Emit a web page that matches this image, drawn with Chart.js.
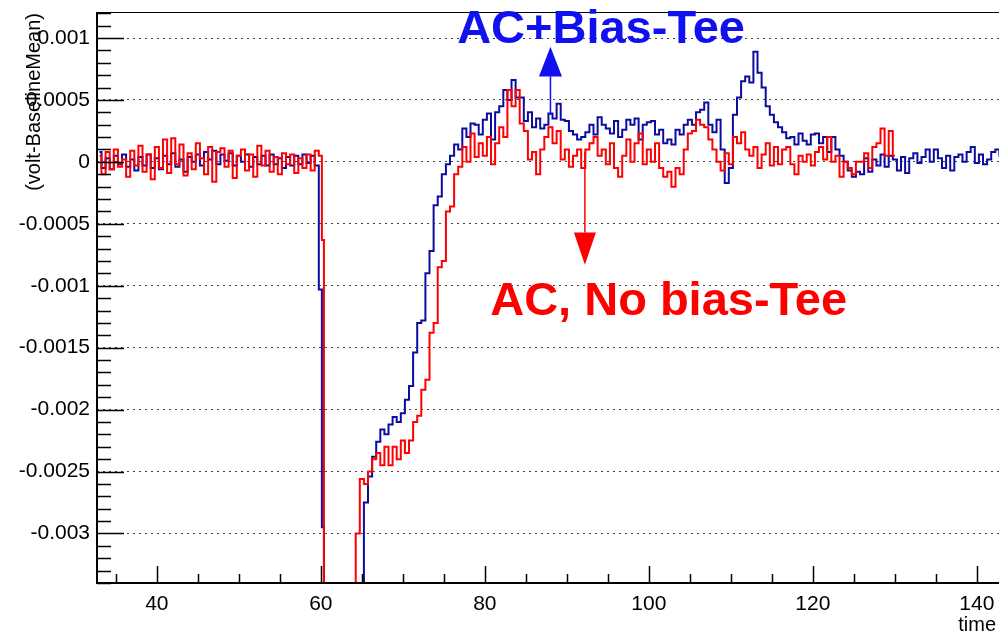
<!DOCTYPE html>
<html>
<head>
<meta charset="utf-8">
<title>AC vs AC+Bias-Tee</title>
<script src="https://cdn.jsdelivr.net/npm/chart.js@4.4.1/dist/chart.umd.min.js"></script>
<style>
  html, body { margin: 0; padding: 0; background: #fff; }
  #wrap { width: 999px; height: 636px; }
</style>
</head>
<body>
<div id="wrap"><canvas id="pulse" width="999" height="636"></canvas></div>
<script>
// sample times (bin centres), shared by both traces
const times = [
  33, 33.5, 34, 34.5, 35, 35.5, 36, 36.5, 37, 37.5,
  38, 38.5, 39, 39.5, 40, 40.5, 41, 41.5, 42, 42.5,
  43, 43.5, 44, 44.5, 45, 45.5, 46, 46.5, 47, 47.5,
  48, 48.5, 49, 49.5, 50, 50.5, 51, 51.5, 52, 52.5,
  53, 53.5, 54, 54.5, 55, 55.5, 56, 56.5, 57, 57.5,
  58, 58.5, 59, 59.5, 60, 60.25, 60.5, 61, 61.5, 62, 62.5,
  63, 63.5, 64, 64.5, 65, 65.5, 66, 66.5, 67, 67.5,
  68, 68.5, 69, 69.5, 70, 70.5, 71, 71.5, 72, 72.5,
  73, 73.5, 74, 74.5, 75, 75.5, 76, 76.5, 77, 77.5,
  78, 78.5, 79, 79.5, 80, 80.5, 81, 81.5, 82, 82.5,
  83, 83.5, 84, 84.5, 85, 85.5, 86, 86.5, 87, 87.5,
  88, 88.5, 89, 89.5, 90, 90.5, 91, 91.5, 92, 92.5,
  93, 93.5, 94, 94.5, 95, 95.5, 96, 96.5, 97, 97.5,
  98, 98.5, 99, 99.5, 100, 100.5, 101, 101.5, 102, 102.5,
  103, 103.5, 104, 104.5, 105, 105.5, 106, 106.5, 107, 107.5,
  108, 108.5, 109, 109.5, 110, 110.5, 111, 111.5, 112, 112.5,
  113, 113.5, 114, 114.5, 115, 115.5, 116, 116.5, 117, 117.5,
  118, 118.5, 119, 119.5, 120, 120.5, 121, 121.5, 122, 122.5,
  123, 123.5, 124, 124.5, 125, 125.5, 126, 126.5, 127, 127.5,
  128, 128.5, 129, 129.5, 130, 130.5, 131, 131.5, 132, 132.5,
  133, 133.5, 134, 134.5, 135, 135.5, 136, 136.5, 137, 137.5,
  138, 138.5, 139, 139.5, 140, 140.5, 141, 141.5, 142, 142.5,
  143
];

// AC, no bias-tee (red), volts; ends at t=130
const acNoBiasTee = [
  0.00005, -0.0001, 0.00008, -0.00006, 0.0001, -0.00004, 0.00002, -0.00012, 0.00009, -0.00003,
  0.00013, -0.00008, 0.00006, -0.00014, 0.00012, -0.00005, 0.00018, -0.00009, 0.00019, -0.00002,
  0.00014, -0.00011, 0.00007, -0.00006, 0.00015, 0.00003, -0.0001, 0.00012, -0.00016, 0.00008,
  0.00011, -0.00004, 0.00009, -0.00013, 0.00005, 0.0001, -0.00007, 0.00006, -0.00012, 0.00013,
  -0.00003, 0.00009, -0.00008, 0.00004, -0.0001, 0.00007, -0.00002, 0.00006, -0.00009, 0.00003,
  -0.00005, 0.00006, -0.00007, 0.00009, 0.00005, -0.00063, -0.006, -0.006, -0.006, -0.006, -0.006,
  -0.006, -0.006, -0.006, -0.003, -0.00256, -0.0026, -0.0025, -0.0024, -0.00235, -0.00245,
  -0.0023, -0.00245, -0.0023, -0.0024, -0.00225, -0.00235, -0.00225, -0.0021, -0.00205, -0.00184,
  -0.00176, -0.00138, -0.0013, -0.00085, -0.0008, -0.0004, -0.00036, -0.0001, -0.00004, 0.00012,
  0.0, 0.00023, 0.00004, 0.00015, 0.00005, 0.0002, -0.00002, 0.00015, 0.00028, 0.0002,
  0.00058, 0.00045, 0.00058, 0.00031, 0.00025, 0.00002, 0.00008, -0.0001, 0.0001, 0.0002,
  0.00028, 0.00015, 0.00025, 0.00002, 0.0001, -0.00004, 0.00005, 0.0001, -0.00005, 0.0001,
  0.00015, 0.0002, 0.00005, 0.0001, -0.00002, 0.00015, -0.00005, -0.00012, 0.00005, 0.00018,
  0.0, 0.00015, 0.00023, -0.00002, 0.0001, 0.0, 0.00015, -0.00005, -0.00012, -0.00008,
  -0.0002, -0.00005, -0.0001, 0.0001, 0.00023, 0.00025, 0.00034, 0.0003, 0.00028, 0.00018,
  0.0001, 0.0, -0.00007, 0.00007, -0.00002, 0.0002, 0.00015, 0.00024, 0.0001, 0.00005,
  0.00012, -0.00005, 0.00006, 0.00015, -0.00003, 0.00012, -0.00002, 0.0001, 0.00012, -0.00002,
  -0.0001, 0.00005, 0.0, 0.00006, -0.00003, 0.00008, 0.00012, 0.00002, 0.0002, 0.0,
  0.00005, -0.00012, 0.0, -0.00005, -0.0001, 0.0, 0.0, 0.00007, -0.00005, 0.00012,
  0.00015, 0.00027, 0.00005, 0.00025, 0.00005
];

// AC + bias-tee (blue), volts
const acBiasTee = [
  0.00008, -0.00005, 0.00003, -0.00006, 0.00005, -0.00002, 0.00006, -0.00004, 0.00002, -0.00007,
  0.00004, -0.00003, 0.00006, -0.00005, 0.00003, -0.00006, 0.00005, -0.00002, 0.00007, -0.00004,
  0.00002, -0.00008, 0.00004, 0.0, 0.00006, -0.00003, 0.00008, 0.00002, 0.00009, -0.00002,
  0.00006, 0.00001, 0.00007, -0.00003, 0.00005, 0.0, 0.00006, -0.00004, 0.00004, -0.00002,
  0.00005, -0.00003, 0.00006, -0.00002, 0.00003, -0.00005, 0.00004, -0.00003, 0.00005, -0.00002,
  0.00006, -0.00001, 0.00005, -0.00003, -0.00103, -0.00295, -0.006, -0.006, -0.006, -0.006, -0.006,
  -0.006, -0.006, -0.006, -0.006, -0.006, -0.00275, -0.00254, -0.00238, -0.00226, -0.00216,
  -0.0022, -0.00212, -0.00206, -0.0021, -0.00203, -0.00192, -0.00181, -0.00154, -0.0013, -0.00128,
  -0.0009, -0.00072, -0.00035, -0.00028, -0.0001, -0.00002, 0.00005, 0.00014, 0.0001, 0.00027,
  0.0002, 0.00031, 0.0003, 0.00022, 0.00034, 0.00039, 0.00018, 0.0004, 0.00045, 0.00058,
  0.0005, 0.00066, 0.00052, 0.00052, 0.00033, 0.0004, 0.00028, 0.00035, 0.00027, 0.0003,
  0.00039, 0.00035, 0.00047, 0.00034, 0.00033, 0.00025, 0.00022, 0.00018, 0.0002, 0.00024,
  0.0003, 0.00022, 0.00036, 0.0003, 0.00027, 0.00023, 0.00033, 0.0002, 0.00026, 0.00034,
  0.0003, 0.00035, 0.00018, 0.0003, 0.00032, 0.00033, 0.00022, 0.00026, 0.00015, 0.00018,
  0.00014, 0.00026, 0.00022, 0.0003, 0.00034, 0.0003, 0.0004, 0.00042, 0.00048, 0.0003,
  0.00024, 0.00034, 0.0001, -0.00017, -0.00005, 0.00038, 0.00052, 0.00065, 0.00069, 0.00064,
  0.00089, 0.00072, 0.0006, 0.00045, 0.00038, 0.00032, 0.00028, 0.00024, 0.00019, 0.0002,
  0.00014, 0.00023, 0.00017, 0.00014, 0.00022, 0.00023, 0.00015, 0.0002, 0.00008, 0.0002,
  0.0001, 0.00005, 0.0, -0.00007, -0.00012, -0.00008, -0.0001, 0.00003, -0.00008, 0.00002,
  -0.00003, 0.00006, -0.00004, 0.00005, 0.00002, -0.00007, 0.00004, -0.00009, 0.00003, 0.00007,
  -0.00001, 0.00004, 0.0001, 0.0, 0.0001, 0.00003, -0.00005, 0.00005, -0.00007, 0.00004,
  0.00006, 0.0, 0.00008, 0.00012, -0.00001, 0.00006, -0.00002, 0.00002, 0.00008, 0.0001,
  0.00005
];

const timeRange = [32.7, 142.7];
const voltRange = [-0.0034, 0.00121];

const fontFamily = '"Liberation Sans", Arial, Helvetica, sans-serif';

// frame, inside ticks, axis titles and the two labelled arrows (ROOT style)
const rootDecor = {
  id: 'rootDecor',
  afterDraw(chart) {
    const ctx = chart.ctx;
    const area = chart.chartArea;
    const xs = chart.scales.x;
    const ys = chart.scales.y;
    ctx.save();
    ctx.strokeStyle = '#000';

    // frame
    ctx.lineWidth = 1;
    ctx.beginPath();
    ctx.moveTo(area.left, area.top + 0.5);
    ctx.lineTo(area.right, area.top + 0.5);
    ctx.stroke();
    ctx.lineWidth = 2;
    ctx.beginPath();
    ctx.moveTo(area.left, area.top);
    ctx.lineTo(area.left, area.bottom);
    ctx.lineTo(area.right, area.bottom);
    ctx.stroke();

    // y ticks (major every 0.0005, minor every 0.0001)
    ctx.lineWidth = 1.5;
    ctx.beginPath();
    for (let k = Math.ceil(ys.min / 0.0001); k <= Math.floor(ys.max / 0.0001); k++) {
      const y = Math.round(ys.getPixelForValue(k * 0.0001)) + 0.5;
      const len = (k % 5 === 0) ? 27 : 14;
      ctx.moveTo(area.left, y);
      ctx.lineTo(area.left + len, y);
    }
    // x ticks (major every 20, minor every 5)
    for (let t = Math.ceil(xs.min / 5) * 5; t <= xs.max; t += 5) {
      const x = Math.round(xs.getPixelForValue(t)) + 0.5;
      const len = (t % 20 === 0) ? 17 : 9;
      ctx.moveTo(x, area.bottom);
      ctx.lineTo(x, area.bottom - len);
    }
    ctx.stroke();

    // axis titles
    ctx.fillStyle = '#000';
    ctx.font = '20px ' + fontFamily;
    ctx.textAlign = 'right';
    ctx.textBaseline = 'alphabetic';
    ctx.fillText('time', 996, 631);
    ctx.save();
    ctx.translate(34, 13);
    ctx.rotate(-Math.PI / 2);
    ctx.textBaseline = 'middle';
    ctx.fillText('(volt-BaselineMean)', 0, 0);
    ctx.restore();

    // arrows
    function arrow(t, fromV, baseV, tipV, half, color) {
      const x = xs.getPixelForValue(t);
      const y0 = ys.getPixelForValue(fromV);
      const yb = ys.getPixelForValue(baseV);
      const yt = ys.getPixelForValue(tipV);
      ctx.strokeStyle = color;
      ctx.fillStyle = color;
      ctx.lineWidth = 1.5;
      ctx.beginPath();
      ctx.moveTo(x, y0);
      ctx.lineTo(x, yb);
      ctx.stroke();
      ctx.beginPath();
      ctx.moveTo(x - half, yb);
      ctx.lineTo(x + half, yb);
      ctx.lineTo(x, yt);
      ctx.closePath();
      ctx.fill();
    }
    arrow(88.0, 0.00038, 0.00069, 0.00093, 11.5, '#1010f0');
    arrow(92.2, 0.00008, -0.00057, -0.00083, 11, '#ff0000');

    ctx.font = 'bold 47px ' + fontFamily;
    ctx.textAlign = 'left';
    ctx.textBaseline = 'alphabetic';
    ctx.fillStyle = '#1010f0';
    ctx.fillText('AC+Bias-Tee', xs.getPixelForValue(76.62), ys.getPixelForValue(0.00096));
    ctx.fillStyle = '#ff0000';
    ctx.fillText('AC, No bias-Tee', xs.getPixelForValue(80.65), ys.getPixelForValue(-0.00124));
    ctx.restore();
  }
};

const ctx = document.getElementById('pulse').getContext('2d');
new Chart(ctx, {
  type: 'line',
  data: {
    labels: times,
    datasets: [
      {
        label: 'AC, No bias-Tee',
        data: acNoBiasTee,
        borderColor: '#ff0000',
        borderWidth: 2,
        stepped: 'middle',
        pointRadius: 0,
        fill: false
      },
      {
        label: 'AC+Bias-Tee',
        data: acBiasTee,
        borderColor: '#0c0ca0',
        borderWidth: 2,
        stepped: 'middle',
        pointRadius: 0,
        fill: false
      }
    ]
  },
  options: {
    responsive: false,
    animation: false,
    events: [],
    layout: { padding: { top: 12, right: 0, left: 0, bottom: 0 } },
    plugins: {
      legend: { display: false },
      tooltip: { enabled: false }
    },
    scales: {
      x: {
        type: 'linear',
        min: timeRange[0],
        max: timeRange[1],
        afterFit(scale) {
          scale.height = 53;
          scale.paddingLeft = 0;
          scale.paddingRight = 0;
        },
        grid: { display: false },
        border: { display: false },
        ticks: {
          stepSize: 20,
          includeBounds: false,
          maxRotation: 0,
          padding: 1,
          color: '#000',
          font: { family: fontFamily, size: 21 }
        }
      },
      y: {
        min: voltRange[0],
        max: voltRange[1],
        afterFit(scale) {
          scale.width = 97;
          scale.paddingTop = 0;
          scale.paddingBottom = 0;
        },
        grid: { color: '#444', lineWidth: 1, drawTicks: false },
        border: { display: false, dash: [2, 4] },
        ticks: {
          stepSize: 0.0005,
          includeBounds: false,
          padding: 7,
          color: '#000',
          font: { family: fontFamily, size: 21 },
          callback: v => String(Number(v.toFixed(4)))
        }
      }
    }
  },
  plugins: [rootDecor]
});
</script>
</body>
</html>
